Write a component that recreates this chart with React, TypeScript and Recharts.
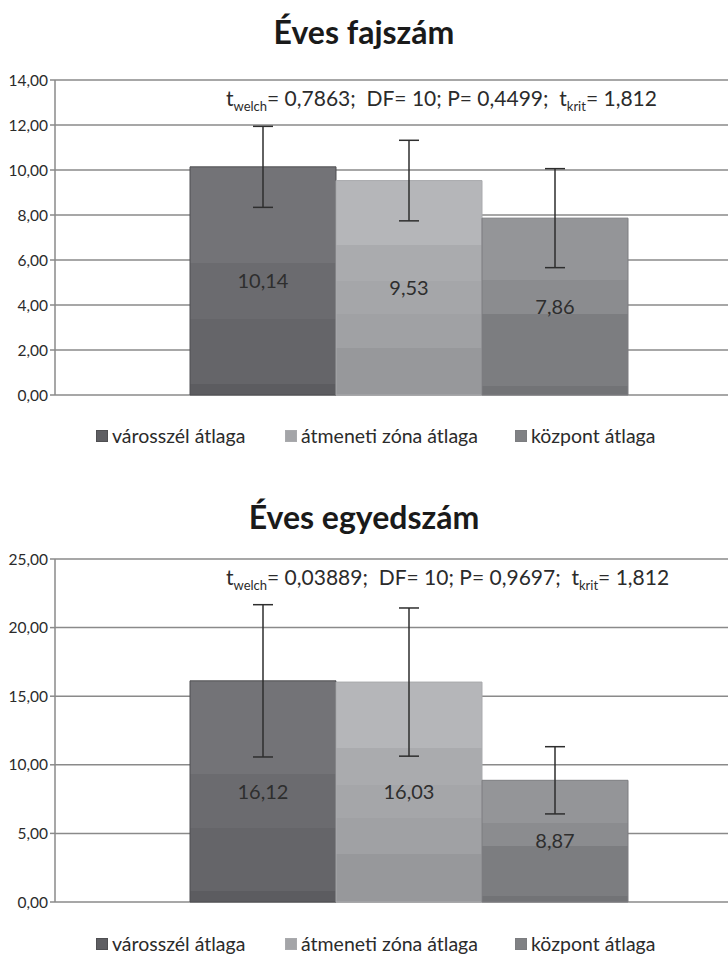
import { Bar, BarChart, CartesianGrid, ErrorBar, LabelList, XAxis, YAxis } from 'recharts'

const categories = ['városszél átlaga', 'átmeneti zóna átlaga', 'központ átlaga']

const fajszamMeans = [10.14, 9.53, 7.86]
const fajszamErrors = [1.8, 1.79, 2.2]
const fajszamTicks = [0, 2, 4, 6, 8, 10, 12, 14]

const egyedszamMeans = [16.12, 16.03, 8.87]
const egyedszamErrors = [5.55, 5.4, 2.45]
const egyedszamTicks = [0, 5, 10, 15, 20, 25]

// banded fills imitating the old Excel gradient
const BANDS = [
  [[0, '#737377'], [0.42, '#6b6b6f'], [0.665, '#656569'], [0.95, '#5c5c60']],
  [[0, '#b5b6b9'], [0.3, '#aaabae'], [0.47, '#a5a6a9'], [0.62, '#a0a1a4'], [0.78, '#97989b']],
  [[0, '#949598'], [0.35, '#8b8c8f'], [0.54, '#7c7d80'], [0.95, '#727376']],
] as const
const SWATCH = ['#5e5e62', '#a4a5a8', '#808184']
const EDGE = ['#4f4f52', '#a9aaad', '#7c7d80']
const LEGEND_X = [96, 285, 515]

const FONT = 'Lato, "Open Sans", sans-serif'
const TEXT = '#2b2b2b'

const fmt = (v: number) => v.toFixed(2).replace('.', ',')

function buildRow(means: number[], errors: number[]) {
  const row: Record<string, number | string> = { name: 'all' }
  means.forEach((m, i) => {
    row[`s${i}`] = m
    row[`e${i}`] = errors[i]
  })
  return [row]
}

function Stats({ t, p }: { t: string; p: string }) {
  return (
    <span>
      t<sub style={{ fontSize: 13 }}>welch</sub>= {t};&nbsp; DF= 10; P= {p};&nbsp; t<sub style={{ fontSize: 13 }}>krit</sub>= 1,812
    </span>
  )
}

function Panel({
  id, title, titleTop, means, errors, ticks, stats, top, height, mTop, mBottom,
}: {
  id: string
  title: string
  titleTop: number
  means: number[]
  errors: number[]
  ticks: number[]
  stats: React.ReactNode
  top: number
  height: number
  mTop: number
  mBottom: number
}) {
  const data = buildRow(means, errors)
  const max = ticks[ticks.length - 1]
  return (
    <>
      <div style={{ position: 'absolute', left: 0, width: 728, top: titleTop, textAlign: 'center', fontWeight: 700, fontSize: 32, lineHeight: '40px', color: '#1a1a1a' }}>
        {title}
      </div>
      <div style={{ position: 'absolute', left: 0, top }}>
        <BarChart width={762} height={height} data={data} margin={{ top: mTop, right: 0, bottom: mBottom, left: 0 }} barGap={0}>
          <defs>
            {BANDS.map((stops, i) => (
              <linearGradient key={i} id={`${id}-g${i}`} x1="0" y1="0" x2="0" y2="1">
                {stops.map(([o, c], j) => {
                  const next = j + 1 < stops.length ? stops[j + 1][0] : 1
                  return [
                    <stop key={`${j}a`} offset={o} stopColor={c} />,
                    <stop key={`${j}b`} offset={next} stopColor={c} />,
                  ]
                })}
              </linearGradient>
            ))}
          </defs>
          <CartesianGrid vertical={false} stroke="#8a8a8a" strokeWidth={1.5} />
          <XAxis dataKey="name" hide />
          <YAxis
            domain={[0, max]}
            ticks={ticks}
            width={55}
            tickFormatter={fmt}
            axisLine={{ stroke: '#8a8a8a', strokeWidth: 1.5 }}
            tickLine={{ stroke: '#8a8a8a', strokeWidth: 1.5 }}
            tickSize={5}
            tick={{ fill: TEXT, fontSize: 15.5, fontFamily: FONT }}
          />
          {means.map((_, i) => (
            <Bar key={i} dataKey={`s${i}`} barSize={146} fill={`url(#${id}-g${i})`} stroke={EDGE[i]} strokeWidth={1} isAnimationActive={false}>
              <ErrorBar dataKey={`e${i}`} width={10} stroke="#2e2e2e" strokeWidth={1.5} direction="y" />
              <LabelList dataKey={`s${i}`} position="center" formatter={(v: number) => fmt(v)} fill="#2e2e2e" fontSize={20} fontFamily={FONT} />
            </Bar>
          ))}
        </BarChart>
      </div>
      <div style={{ position: 'absolute', left: 226, top: top + mTop + 5, fontSize: 21, color: TEXT, whiteSpace: 'nowrap' }}>
        {stats}
      </div>
      {categories.map((c, i) => (
        <div
          key={c}
          style={{ position: 'absolute', left: LEGEND_X[i], top: top + height + 14, display: 'flex', alignItems: 'center', whiteSpace: 'nowrap', fontSize: 19.5, color: TEXT }}
        >
          <span style={{ display: 'inline-block', width: 10, height: 10, background: SWATCH[i], border: `1px solid ${EDGE[i]}`, marginRight: 4 }} />
          {c}
        </div>
      ))}
    </>
  )
}

export default function App() {
  return (
    <div style={{ position: 'absolute', left: 0, top: 0, width: 728, height: 957, overflow: 'hidden', background: '#fff', fontFamily: FONT }}>
      <Panel
        id="faj"
        title="Éves fajszám"
        titleTop={12}
        means={fajszamMeans}
        errors={fajszamErrors}
        ticks={fajszamTicks}
        stats={<Stats t="0,7863" p="0,4499" />}
        top={60}
        height={350}
        mTop={20}
        mBottom={15}
      />
      <Panel
        id="egy"
        title="Éves egyedszám"
        titleTop={497}
        means={egyedszamMeans}
        errors={egyedszamErrors}
        ticks={egyedszamTicks}
        stats={<Stats t="0,03889" p="0,9697" />}
        top={538}
        height={380}
        mTop={21}
        mBottom={16}
      />
    </div>
  )
}
